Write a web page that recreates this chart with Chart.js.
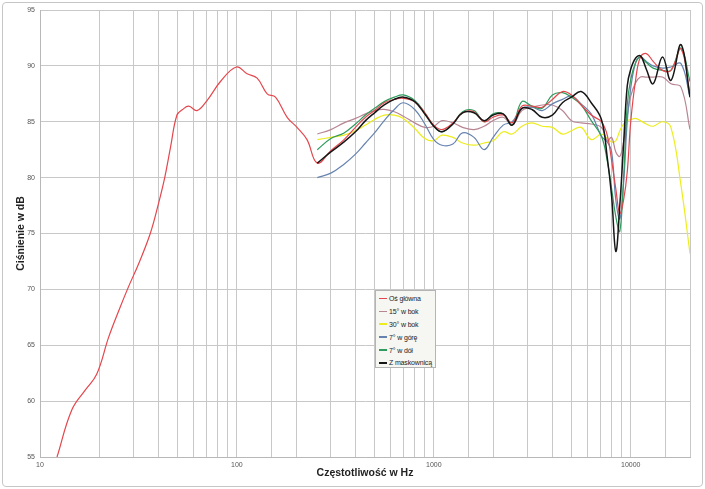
<!DOCTYPE html>
<html lang="pl">
<head>
<meta charset="UTF-8" />
<title>Charakterystyka częstotliwościowa</title>
<script src="https://cdn.jsdelivr.net/npm/chart.js"></script>
<style>
  body { margin: 0; background: #fff; font-family: 'Liberation Sans', sans-serif; }
  #wrap { position: relative; width: 705px; height: 489px; }
  #frame {
    position: absolute; left: 2px; top: 2px; width: 699px; height: 483px;
    border: 1px solid #c6c6c6; border-radius: 4px; pointer-events: none;
  }
  #legend {
    position: absolute; left: 375px; top: 290px; width: 59px; height: 75px;
    border: 1px solid #b4b4b4; background: #f6f6f2; padding-top: 1px; overflow: hidden;
  }
  .item { display: flex; align-items: center; height: 12.9px; font-size: 7px; color: #222; white-space: nowrap; letter-spacing: -0.15px; }
  .swatch { flex: none; width: 8px; height: 1.5px; margin: 0 2px 0 3px; }
</style>
</head>
<body>
<div id="wrap">
  <canvas id="fr" width="705" height="489"></canvas>
  <div id="frame"></div>
  <div id="legend"></div>
</div>
<script>
// main axis low frequency part
const lowFreq = [12.2, 14.5, 17, 19.4, 22.3, 25, 28.1, 31.7, 36.3, 40, 43, 46, 49.6, 53, 56.9, 62.7, 70.5, 82.5, 99.4, 112.6, 126.7, 142.5, 157, 180, 202, 227];
const lowMain = [55.0, 59.2, 61.0, 62.4, 65.7, 68.0, 70.2, 72.3, 75.0, 77.7, 80.0, 82.7, 85.6, 86.1, 86.4, 86.0, 86.9, 88.6, 89.9, 89.3, 88.9, 87.5, 87.2, 85.4, 84.5, 83.4];

// common frequencies of the measured curves
const freq = [256, 300, 350, 400, 450, 500, 560, 630, 700, 800, 900, 1000, 1100, 1250, 1400, 1600, 1800, 2000, 2250, 2500, 2800, 3150, 3550, 4000, 4500, 5000, 5600, 6300, 7100, 7600, 8000, 8400, 8800, 9200, 9600, 10000, 10600, 11200, 12000, 13000, 14500, 16000, 18000, 20000];

const osGlowna = [81.3, 82.4, 83.4, 84.5, 85.4, 86.0, 86.7, 87.0, 87.1, 86.8, 85.8, 84.7, 84.3, 84.9, 85.8, 85.9, 85.0, 85.4, 85.6, 84.9, 86.4, 86.4, 86.3, 87.0, 87.7, 87.4, 86.5, 85.6, 85.0, 83.8, 81.5, 79.0, 76.8, 78.0, 80.5, 85.0, 88.8, 90.8, 91.1, 90.4, 89.6, 89.6, 91.5, 87.5];
const bok15 = [83.9, 84.3, 84.9, 85.3, 85.7, 86.0, 86.1, 85.9, 85.5, 84.9, 84.5, 84.6, 85.1, 84.9, 84.5, 84.3, 84.6, 85.1, 85.4, 84.7, 86.0, 86.3, 86.5, 86.5, 86.0, 85.1, 84.9, 84.8, 84.5, 83.3, 83.6, 82.3, 81.9, 83.2, 85.5, 87.3, 88.5, 89.0, 89.0, 89.0, 89.0, 88.4, 88.1, 84.3];
const bok30 = [83.4, 83.6, 83.8, 84.2, 84.7, 85.2, 85.6, 85.6, 85.3, 84.4, 83.5, 83.3, 83.8, 83.6, 83.1, 82.9, 83.1, 83.3, 84.1, 83.9, 84.6, 84.9, 84.6, 84.5, 83.9, 84.2, 84.5, 83.4, 83.9, 83.5, 83.2, 83.3, 84.2, 84.8, 85.1, 85.2, 85.3, 85.1, 84.8, 84.6, 85.0, 84.5, 79.3, 73.2];
const gora7 = [80.0, 80.4, 81.2, 82.1, 83.1, 84.0, 85.1, 86.1, 86.7, 86.1, 84.8, 83.4, 82.9, 83.0, 84.0, 83.6, 82.5, 83.6, 84.7, 85.0, 86.2, 86.3, 86.0, 86.6, 87.0, 87.3, 86.6, 85.7, 83.7, 83.2, 82.3, 78.0, 76.3, 79.5, 85.0, 88.0, 90.3, 90.8, 90.4, 90.0, 89.8, 89.9, 90.2, 87.2];
const dol7 = [82.5, 83.5, 84.0, 84.8, 85.6, 86.2, 86.8, 87.2, 87.4, 86.9, 85.8, 84.6, 84.1, 84.8, 85.9, 86.0, 85.0, 85.7, 85.7, 84.7, 86.8, 86.4, 86.2, 87.4, 87.6, 87.2, 86.5, 85.1, 83.7, 81.5, 79.0, 76.5, 75.2, 80.0, 86.5, 88.8, 90.3, 90.8, 90.3, 89.8, 89.6, 89.6, 91.6, 88.6];
const maskownica = [81.3, 82.3, 83.2, 84.1, 85.1, 85.8, 86.5, 87.0, 87.2, 86.8, 85.7, 84.6, 84.1, 84.8, 85.8, 85.8, 85.1, 85.6, 85.7, 84.7, 86.2, 86.1, 85.4, 85.6, 86.7, 87.2, 87.7, 86.7, 85.2, 81.8, 78.3, 73.4, 77.5, 83.0, 88.2, 89.7, 90.7, 90.9, 89.7, 88.4, 90.8, 88.7, 91.9, 87.2];

const seriesNames = ['Oś główna', '15° w bok', '30° w bok', '7° w górę', '7° w dół', 'Z maskownicą'];
const seriesColors = ['#e3474d', '#b88593', '#eded1e', '#6683b0', '#2f9b5e', '#161616'];
const majorTicks = [10, 100, 1000, 10000];

const pts = (xs, ys) => xs.map((x, i) => ({ x: x, y: ys[i] }));

const curves = [
  pts(lowFreq.concat(freq), lowMain.concat(osGlowna)),
  pts(freq, bok15),
  pts(freq, bok30),
  pts(freq, gora7),
  pts(freq, dol7),
  pts(freq, maskownica)
];

const datasets = curves.map((d, i) => ({
  label: seriesNames[i],
  data: d,
  borderColor: seriesColors[i],
  borderWidth: i === 5 ? 1.5 : 1.2,
  pointRadius: 0,
  tension: 0.4,
  fill: false
}));

// draw order: main axis on top of the coloured ones, black last
const order = [2, 1, 3, 4, 0, 5];
order.forEach((idx, k) => { datasets[idx].order = order.length - k; });

const font = 'Liberation Sans, sans-serif';

const chart = new Chart(document.getElementById('fr'), {
  type: 'line',
  data: { datasets },
  options: {
    responsive: false,
    animation: false,
    devicePixelRatio: 1,
    layout: { padding: { top: 10, right: 15, left: 0, bottom: 0 } },
    plugins: { legend: { display: false }, tooltip: { enabled: false } },
    scales: {
      x: {
        type: 'logarithmic',
        min: 10,
        max: 20000,
        afterFit: s => { s.height = 32; },
        grid: { color: '#c8c8c8', lineWidth: 1, drawTicks: false },
        border: { color: '#b8b8b8' },
        ticks: {
          autoSkip: false, maxRotation: 0, padding: 4,
          font: { family: font, size: 7 }, color: '#555',
          callback: v => majorTicks.includes(v) ? String(v) : ''
        },
        title: {
          display: true, text: 'Częstotliwość w Hz', color: '#222',
          font: { family: font, size: 10.5, weight: 'bold' },
          padding: { top: 0, bottom: 10 }
        }
      },
      y: {
        min: 55,
        max: 95,
        afterFit: s => { s.width = 40; },
        grid: { color: '#c8c8c8', lineWidth: 1, drawTicks: false },
        border: { color: '#b8b8b8' },
        ticks: {
          stepSize: 5, padding: 5,
          font: { family: font, size: 7 }, color: '#555'
        },
        title: {
          display: true, text: 'Ciśnienie w dB', color: '#222',
          font: { family: font, size: 10.5, weight: 'bold' },
          padding: { top: 15, bottom: 0 }
        }
      }
    }
  }
});

// legend box built from the chart's datasets
const leg = document.getElementById('legend');
chart.data.datasets.forEach(ds => {
  const row = document.createElement('div');
  row.className = 'item';
  const sw = document.createElement('span');
  sw.className = 'swatch';
  sw.style.background = ds.borderColor;
  const tx = document.createElement('span');
  tx.textContent = ds.label;
  row.appendChild(sw);
  row.appendChild(tx);
  leg.appendChild(row);
});
</script>
</body>
</html>
